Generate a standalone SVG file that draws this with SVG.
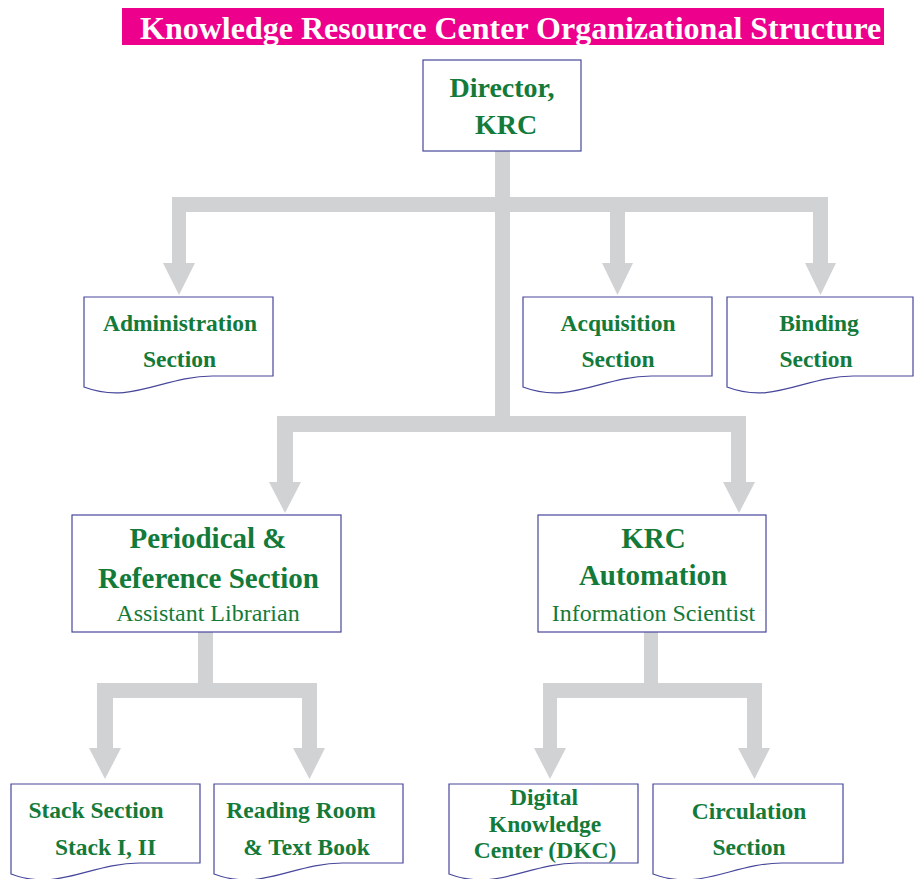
<svg xmlns="http://www.w3.org/2000/svg" width="914" height="879" viewBox="0 0 914 879">
<style>
.bx{fill:#fff;stroke:#47479c;stroke-width:1.2}
.c{fill:#d1d2d4}
.t{font-family:"Liberation Serif","Times New Roman",serif;font-weight:bold;fill:#137a3a;text-anchor:middle}
.s{font-size:23.5px}
.l{font-size:29px}
.r{font-family:"Liberation Serif","Times New Roman",serif;font-size:24px;fill:#137a3a;text-anchor:middle}
</style>
<rect x="122" y="8" width="762" height="37" fill="#ec008c"/>
<text x="140" y="39" font-family="'Liberation Serif','Times New Roman',serif" font-weight="bold" font-size="32" fill="#fff">Knowledge Resource Center Organizational Structure</text>
<g id="connectors">
<rect class="c" x="495" y="151" width="15" height="281"/>
<rect class="c" x="172" y="197" width="656" height="15"/>
<rect class="c" x="172" y="197" width="14" height="67"/>
<polygon class="c" points="163,263 195,263 179,295"/>
<rect class="c" x="610" y="197" width="15" height="67"/>
<polygon class="c" points="602,263 633,263 617.5,295"/>
<rect class="c" x="813" y="197" width="15" height="67"/>
<polygon class="c" points="805,263 836,263 820.5,295"/>
<rect class="c" x="277" y="416" width="469" height="16"/>
<rect class="c" x="277" y="416" width="16" height="67"/>
<polygon class="c" points="269,482 301,482 285,513"/>
<rect class="c" x="731" y="416" width="15" height="67"/>
<polygon class="c" points="723,482 755,482 739,513"/>
<rect class="c" x="198" y="632" width="15" height="66"/>
<rect class="c" x="97" y="683" width="220" height="15"/>
<rect class="c" x="97" y="683" width="16" height="66"/>
<polygon class="c" points="89,748 121,748 105,779"/>
<rect class="c" x="302" y="683" width="15" height="66"/>
<polygon class="c" points="293,748 325,748 309.5,779"/>
<rect class="c" x="644" y="632" width="14" height="66"/>
<rect class="c" x="543" y="683" width="219" height="15"/>
<rect class="c" x="543" y="683" width="14" height="66"/>
<polygon class="c" points="534,748 566,748 550,779"/>
<rect class="c" x="747" y="683" width="15" height="66"/>
<polygon class="c" points="738,748 770,748 754.5,779"/>
</g>
<g id="director">
<rect class="bx" x="423" y="60" width="158" height="91"/>
<text class="t" font-size="28" x="502" y="97">Director,</text>
<text class="t" font-size="28" x="506" y="134">KRC</text>
</g>
<g id="administration">
<path class="bx" d="M84,297 H273 V376 H212.5 C163.4,376 131.3,405 84,387 Z"/>
<text class="t s" x="180" y="331">Administration</text>
<text class="t s" x="179.5" y="367">Section</text>
</g>
<g id="acquisition">
<path class="bx" d="M523,297 H712 V376 H651.5 C602.4,376 570.3,405 523,387 Z"/>
<text class="t s" x="618" y="331">Acquisition</text>
<text class="t s" x="618" y="367">Section</text>
</g>
<g id="binding">
<path class="bx" d="M727,297 H913 V376 H853.5 C805.1,376 773.5,405 727,387 Z"/>
<text class="t s" x="819" y="331">Binding</text>
<text class="t s" x="816" y="367">Section</text>
</g>
<g id="periodical">
<rect class="bx" x="72" y="515" width="269" height="117"/>
<text class="t l" x="208" y="548">Periodical &amp;</text>
<text class="t l" x="208.5" y="588">Reference Section</text>
<text class="r" x="208" y="621">Assistant Librarian</text>
</g>
<g id="automation">
<rect class="bx" x="538" y="515" width="228" height="117"/>
<text class="t l" x="653.5" y="548">KRC</text>
<text class="t l" x="653" y="585">Automation</text>
<text class="r" x="653.5" y="621">Information Scientist</text>
</g>
<g id="stack">
<path class="bx" d="M11,784 H200 V863 H139.5 C90.4,863 58.3,892 11,874 Z"/>
<text class="t s" x="96" y="818">Stack Section</text>
<text class="t s" x="105.5" y="855">Stack I, II</text>
</g>
<g id="reading">
<path class="bx" d="M214,784 H403 V863 H342.5 C293.4,863 261.3,892 214,874 Z"/>
<text class="t s" x="301" y="818">Reading Room</text>
<text class="t s" x="306.5" y="855">&amp; Text Book</text>
</g>
<g id="dkc">
<path class="bx" d="M449,784 H638 V863 H577.5 C528.4,863 496.3,892 449,874 Z"/>
<text class="t s" x="544" y="805">Digital</text>
<text class="t s" x="545" y="832">Knowledge</text>
<text class="t s" x="545" y="858">Center (DKC)</text>
</g>
<g id="circulation">
<path class="bx" d="M653,784 H843 V863 H782 C732.6,863 700.4,892 653,874 Z"/>
<text class="t s" x="749" y="819">Circulation</text>
<text class="t s" x="749" y="855">Section</text>
</g>
</svg>
